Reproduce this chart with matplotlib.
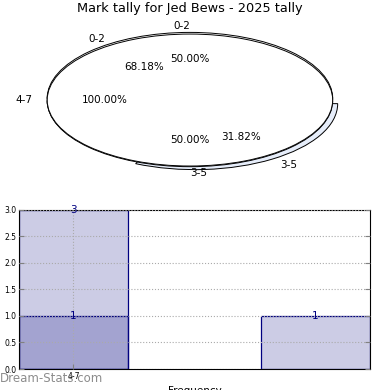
import numpy as np
import matplotlib
matplotlib.use("agg")
import matplotlib.pyplot as plt

# pie data (three overlaid pies)
labels_a = ["0-2", "3-5"]
share_a = [50.0, 50.0]
labels_b = ["0-2", "3-5"]
share_b = [68.18, 31.82]
labels_c = ["4-7"]
share_c = [100.0]

# bar data
bar_pos = [0, 2]
tally_all = [3, 1]
tally_sub = [1]
tick_labels = ["4-7"]

fig = plt.figure(figsize=(3.9, 3.9), dpi=100)

ax1 = fig.add_axes([0.0295, 0.532, 0.915, 0.423])
kw = dict(startangle=0, autopct="%1.2f%%", textprops={"fontsize": 7.5},
          wedgeprops={"edgecolor": "black", "linewidth": 0.7})
ax1.pie(share_b, labels=labels_b, colors=["white", "#e6edfa"], explode=[0.0, 0.065], **kw)
ax1.pie(share_a, labels=labels_a, colors=["white", "white"], explode=[0.025, 0.01], **kw)
ax1.pie(share_c, labels=labels_c, colors=["white"], **kw)
ax1.set_aspect("auto")
ax1.set_xlim(-1.25, 1.25)
ax1.set_ylim(-1.25, 1.25)
ax1.set_title("Mark tally for Jed Bews - 2025 tally", fontsize=9.3, pad=4)

ax2 = fig.add_axes([0.0487, 0.0538, 0.9, 0.408])
navy = "#000080"
ax2.bar(bar_pos, tally_all, width=0.9, color=navy, alpha=0.2, zorder=1)
ax2.bar(bar_pos, tally_all, width=0.9, fill=False, edgecolor=navy, linewidth=0.9, zorder=2)
ax2.bar(bar_pos[:1], tally_sub, width=0.9, color=navy, alpha=0.2, zorder=1)
ax2.bar(bar_pos[:1], tally_sub, width=0.9, fill=False, edgecolor=navy, linewidth=0.9, zorder=2)
for x, v in zip(bar_pos, tally_all):
    ax2.text(x, v, str(v), ha="center", va="center", color=navy, fontsize=7.5, zorder=4)
for x, v in zip(bar_pos[:1], tally_sub):
    ax2.text(x, v, str(v), ha="center", va="center", color=navy, fontsize=7.5, zorder=4)

ax2.set_xlim(-0.45, 2.45)
ax2.set_ylim(0, 3.0)
ax2.set_yticks(np.arange(0, 3.01, 0.5))
ax2.set_xticks([0])
ax2.set_xticklabels(tick_labels)
ax2.tick_params(labelsize=5.5, direction="in", color="gray", right=True, top=False, pad=2)
ax2.grid(True, linestyle=":", color="#aaaaaa", zorder=3)
ax2.set_axisbelow(False)
ax2.set_xlabel("Frequency", fontsize=7.5, labelpad=4)

fig.text(0.0, 0.02, "Dream-Stats.com", color="gray", fontsize=8.5, alpha=0.9)

plt.savefig("out.png")
plt.close()
